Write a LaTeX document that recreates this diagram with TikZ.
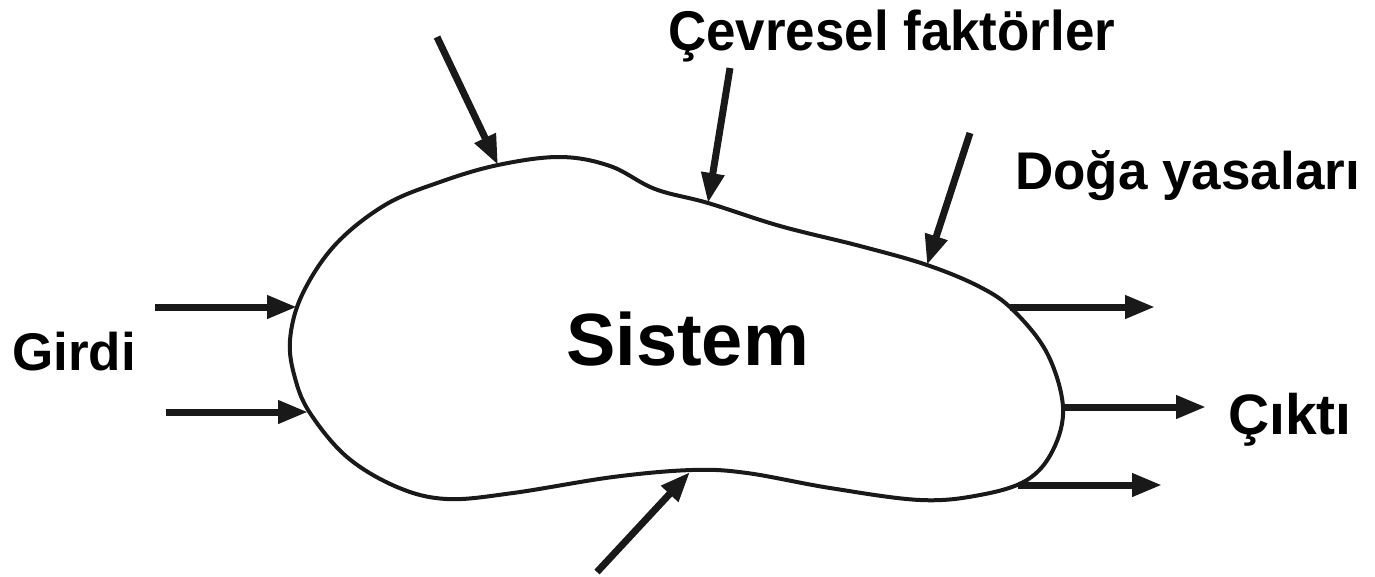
\documentclass[tikz,border=0pt]{standalone}
\usepackage{fontspec}
\setmainfont{Liberation Sans}
\usetikzlibrary{arrows.meta}
\tikzset{
  blob/.style={line width=4pt, black!90},
  flow/.style={line width=7pt, black!90, -{Triangle[length=30pt,width=22pt]}},
  lbl/.style={inner sep=0pt, anchor=base west, font=\bfseries},
}
\begin{document}
\begin{tikzpicture}[x=1pt,y=-1pt]
\useasboundingbox (0,0) rectangle (1375,576);
% system outline
\draw[blob] plot[smooth cycle, tension=0.6] coordinates {
 (290,340) (302,295) (335,245) (385,205) (440,182) (498,165) (560,157)
 (610,166) (655,189) (708,203) (780,226) (860,246) (927,265) (980,287) (1013,310)
 (1047,353) (1063,407) (1053,450) (1027,480) (980,495) (920,500) (830,488)
 (747,473) (692,470) (613,477) (513,493) (447,499) (397,487) (347,457) (310,413)
 (295,378)};
% anchor points
\coordinate (i1s) at (155,307);  \coordinate (i1e) at (297,307);
\coordinate (i2s) at (166,412);  \coordinate (i2e) at (308,412);
\coordinate (t1s) at (437,37);   \coordinate (t1e) at (498,165);
\coordinate (t2s) at (730,68);   \coordinate (t2e) at (708,203);
\coordinate (t3s) at (970,133);  \coordinate (t3e) at (927,265);
\coordinate (bs)  at (597,572);  \coordinate (be)  at (690,472);
\coordinate (o1s) at (1010,307); \coordinate (o1e) at (1155,307);
\coordinate (o2s) at (1063,407); \coordinate (o2e) at (1206,407);
\coordinate (o3s) at (1018,485); \coordinate (o3e) at (1162,485);
% arrows
\draw[flow] (i1s) -- (i1e);
\draw[flow] (i2s) -- (i2e);
\draw[flow] (t1s) -- (t1e);
\draw[flow] (t2s) -- (t2e);
\draw[flow] (t3s) -- (t3e);
\draw[flow] (bs) -- (be);
\draw[flow] (o1s) -- (o1e);
\draw[flow] (o2s) -- (o2e);
\draw[flow] (o3s) -- (o3e);
% labels
\node[lbl] (sistem) at (566,365) {\fontsize{74}{80}\selectfont Sistem};
\node[lbl] (girdi) at (12,370) {\fontsize{53}{60}\selectfont Girdi};
\node[lbl] (cikti) at (1228,434) {\fontsize{57}{60}\selectfont Çıktı};
\node[lbl] (doga) at (1015,189) {\fontsize{53}{60}\selectfont Doğa yasaları};
\node[lbl] (cevre) at (668,50) {\scalebox{0.945}[1]{\fontsize{56}{60}\selectfont Çevresel faktörler}};
\end{tikzpicture}
\end{document}
